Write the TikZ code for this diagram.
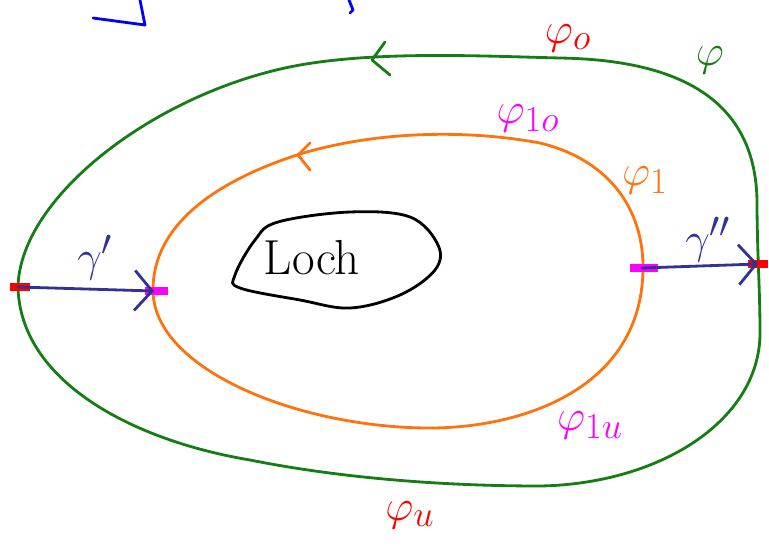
\documentclass[tikz,border=0pt]{standalone}
\usetikzlibrary{arrows.meta}
\definecolor{pengreen}{RGB}{20,125,20}
\definecolor{penorange}{RGB}{255,115,15}
\definecolor{penpink}{RGB}{255,0,255}
\definecolor{penred}{RGB}{255,0,0}
\definecolor{pennavy}{RGB}{50,50,150}
\definecolor{penblue}{RGB}{0,0,255}
\tikzset{
  pen/.style={line width=1.6pt, line cap=round, line join=round},
  endmark/.style={line width=4pt},
  lbl/.style={font=\fontsize{28}{32}\selectfont},
  gamma/.style={pen, pennavy, -{Straight Barb[length=3.5mm,width=8mm,line width=1.6pt]}}
}

\begin{document}
\begin{tikzpicture}[x=0.02cm,y=-0.02cm]
\useasboundingbox (0,0) rectangle (769,548);
% scribbles cut off at the top
\draw[pen,penblue] (93,18) -- (145,25) -- (140,0);
\draw[pen,penblue] (349,0) -- (353,10) -- (350,13);
% end points
\coordinate (outL) at (18,287);
\coordinate (inL) at (154,291);
\coordinate (inR) at (642,268);
\coordinate (outR) at (758,264);
% outer curve
\draw[pen,pengreen] (outL) .. controls (20,195) and (160,90) .. (300,65)
  .. controls (380,51) and (480,56) .. (560,58)
  .. controls (680,60) and (755,100) .. (757,200)
  .. controls (757,250) and (760,290) .. (760,330)
  .. controls (762,420) and (660,484) .. (540,486)
  .. controls (430,486) and (330,476) .. (250,460)
  .. controls (130,440) and (20,380) .. (outL) -- cycle;
\draw[pen,pengreen] (385,42) -- (372,60) -- (390,75);
% inner curve
\draw[pen,penorange] (153,290) .. controls (153,220) and (225,178) .. (300,154)
  .. controls (380,130) and (470,130) .. (540,143)
  .. controls (610,160) and (643,210) .. (643,267)
  .. controls (643,390) and (520,428) .. (430,428)
  .. controls (300,428) and (153,370) .. (153,290) -- cycle;
\draw[pen,penorange] (310,143) -- (298,155) -- (310,170);
% hole
\draw[pen,black] plot[smooth cycle,tension=0.6] coordinates {
  (278,222) (350,212) (410,217) (438,245) (435,270) (400,295) (350,308)
  (300,300) (240,288) (235,275) (255,240)};
\node[lbl] (loch) at (312,258) {Loch};
\draw[endmark,penred] (10,287) -- (30,287);
\draw[endmark,penpink] (145,291) -- (168,291);
\draw[endmark,penpink] (630,268) -- (658,268);
\draw[endmark,penred] (748,264) -- (768,264);
% connecting paths
\draw[gamma] (outL) -- (inL);
\draw[gamma] (inR) -- (outR);
\node[lbl,pennavy] (gam1) at (95,258) {$\gamma'$};
\node[lbl,pennavy] (gam2) at (708,240) {$\gamma''$};
% labels
\node[lbl,penred] (phio) at (568,38) {$\varphi_o$};
\node[lbl,pengreen] (phi) at (710,60) {$\varphi$};
\node[lbl,penpink] (phi1o) at (528,118) {$\varphi_{1o}$};
\node[lbl,penorange] (phi1) at (645,180) {$\varphi_1$};
\node[lbl,penpink] (phi1u) at (590,425) {$\varphi_{1u}$};
\node[lbl,penred] (phiu) at (410,515) {$\varphi_u$};
\end{tikzpicture}
\end{document}
